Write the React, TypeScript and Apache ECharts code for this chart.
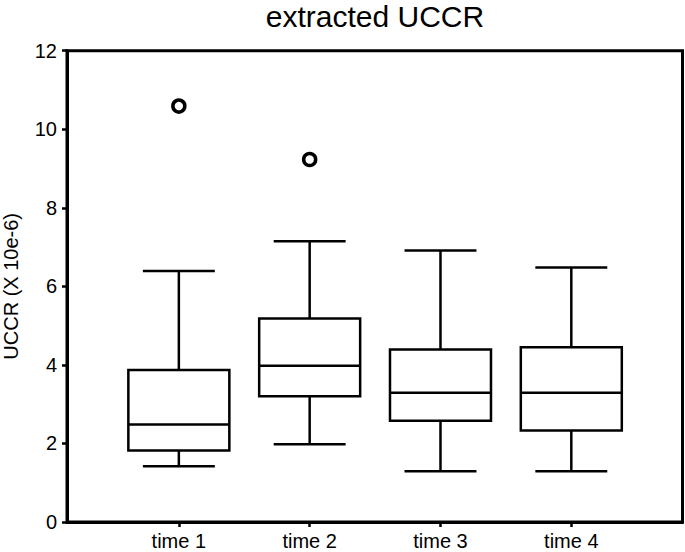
import React, { useEffect, useRef } from "react";
import * as echarts from "echarts";

const categories = ["time 1", "time 2", "time 3", "time 4"];
const positions = [1, 2, 3, 4];
const whiskerLow = [1.42, 1.98, 1.29, 1.29];
const q1 = [1.82, 3.2, 2.58, 2.33];
const median = [2.48, 3.98, 3.29, 3.29];
const q3 = [3.87, 5.18, 4.39, 4.45];
const whiskerHigh = [6.39, 7.15, 6.91, 6.48];
const outlierPositions = [1, 2];
const outlierValues = [10.59, 9.23];
const yTicks = [0, 2, 4, 6, 8, 10, 12];

const FONT = "'Liberation Sans', Arial, Helvetica, sans-serif";

export default function App() {
  const ref = useRef<HTMLDivElement>(null);
  useEffect(() => {
    if (!ref.current) return;
    const chart = echarts.init(ref.current, undefined, { renderer: "svg" });
    const boxData = positions.map((p, i) => [p, whiskerLow[i], q1[i], median[i], q3[i], whiskerHigh[i]]);
    const outData = outlierPositions.map((p, i) => [p, outlierValues[i]]);
    const option: any = {
      animation: false,
      backgroundColor: "#fff",
      textStyle: { fontFamily: FONT },
      graphic: [
        {
          type: "text",
          x: 375,
          y: 16,
          style: {
            text: "extracted UCCR",
            fontSize: 30,
            fontFamily: FONT,
            fill: "#000",
            align: "center",
            verticalAlign: "middle",
          },
        },
      ],
      grid: {
        left: 67,
        right: 2.5,
        top: 50.7,
        bottom: 30,
        containLabel: false,
        outerBoundsMode: "none",
        show: true,
        borderColor: "#000",
        borderWidth: 3,
        backgroundColor: "transparent",
      },
      xAxis: {
        type: "value",
        min: 0.145,
        max: 4.85,
        splitLine: { show: false },
        axisLine: { show: true, lineStyle: { color: "#000", width: 3 } },
        axisTick: {
          show: true,
          customValues: positions,
          length: 5,
          lineStyle: { color: "#000", width: 2.5 },
        },
        axisLabel: {
          customValues: positions,
          formatter: (v: number) => categories[Math.round(v) - 1] ?? "",
          fontSize: 20,
          fontFamily: FONT,
          color: "#000",
          margin: 9,
        },
      },
      yAxis: {
        type: "value",
        min: 0,
        max: 12,
        interval: 2,
        splitLine: { show: false },
        name: "UCCR (X 10e-6)",
        nameLocation: "middle",
        nameGap: 46,
        nameTextStyle: { fontSize: 20, fontFamily: FONT, color: "#000" },
        axisLine: { show: true, lineStyle: { color: "#000", width: 3 } },
        axisTick: { show: true, length: 5, lineStyle: { color: "#000", width: 2.5 } },
        axisLabel: {
          fontSize: 20,
          fontFamily: FONT,
          color: "#000",
          margin: 10,
          formatter: (v: number) => (yTicks.includes(v) ? String(v) : ""),
        },
      },
      series: [
        {
          type: "custom",
          data: boxData,
          encode: { x: 0, y: [1, 2, 3, 4, 5] },
          renderItem: (params: any, api: any) => {
            const x = api.value(0);
            const lo = api.coord([x, api.value(1)]);
            const p1 = api.coord([x, api.value(2)]);
            const pm = api.coord([x, api.value(3)]);
            const p3 = api.coord([x, api.value(4)]);
            const hi = api.coord([x, api.value(5)]);
            const unit = api.size([1, 0])[0];
            const bh = unit * 0.386;
            const ch = unit * 0.275;
            const cx = lo[0];
            const st = { stroke: "#000", lineWidth: 2.5, fill: "none" };
            return {
              type: "group",
              children: [
                { type: "line", shape: { x1: cx, y1: p3[1], x2: cx, y2: hi[1] }, style: st },
                { type: "line", shape: { x1: cx, y1: p1[1], x2: cx, y2: lo[1] }, style: st },
                { type: "line", shape: { x1: cx - ch, y1: hi[1], x2: cx + ch, y2: hi[1] }, style: st },
                { type: "line", shape: { x1: cx - ch, y1: lo[1], x2: cx + ch, y2: lo[1] }, style: st },
                {
                  type: "rect",
                  shape: { x: cx - bh, y: p3[1], width: 2 * bh, height: p1[1] - p3[1] },
                  style: { stroke: "#000", lineWidth: 2.5, fill: "#fff" },
                },
                { type: "line", shape: { x1: cx - bh, y1: pm[1], x2: cx + bh, y2: pm[1] }, style: st },
              ],
            };
          },
        },
        {
          type: "scatter",
          data: outData,
          symbol: "circle",
          symbolSize: 12,
          itemStyle: { color: "#fff", borderColor: "#000", borderWidth: 3.5, opacity: 1 },
        },
      ],
    };
    chart.setOption(option);
    return () => chart.dispose();
  }, []);
  return (
    <div
      ref={ref}
      style={{ position: "fixed", left: 0, top: 0, width: 685, height: 552, background: "#fff" }}
    />
  );
}
